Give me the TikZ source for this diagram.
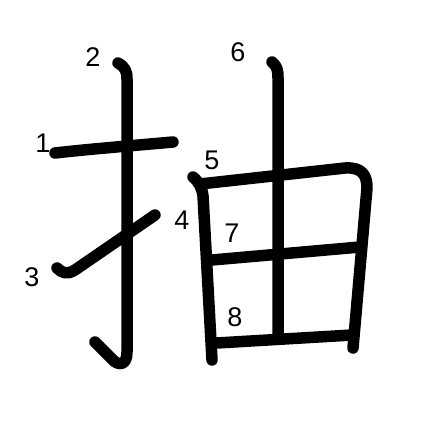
\documentclass[tikz,border=0pt]{standalone}
\usepackage{fontspec}
\setmainfont{Liberation Sans}
\tikzset{
  stroke/.style={line width=11.5pt, line cap=round, line join=round},
  num/.style={inner sep=0pt, font=\fontsize{27}{27}\selectfont}
}
\begin{document}
\begin{tikzpicture}[x=1pt, y=-1pt]
  \useasboundingbox (0,0) rectangle (447,447);

  % strokes
  \draw[stroke] (55,153) .. controls (90,149) and (140,145) .. (173,142);
  \draw[stroke] (118,63) .. controls (125,67) and (127,71) .. (127,79) -- (127,352)
                .. controls (127,366) and (118,366) .. (112,359) -- (95,342);
  \draw[stroke] (57,268) .. controls (62,273) and (67,275) .. (75,270) -- (155,215);
  \draw[stroke] (193,177) .. controls (199,182) and (202,188) .. (203,196) -- (212,360);
  \draw[stroke] (200,184) -- (345,168) .. controls (362,167) and (367,175) .. (367,188) -- (353,348);
  \draw[stroke] (272,62) .. controls (277,66) and (278,70) .. (278,78) -- (278,333);
  \draw[stroke] (212,260) -- (360,247);
  \draw[stroke] (217,343) -- (352,335);

  % stroke numbers
  \node[num] (n1) at (43,143) {1};
  \node[num] (n2) at (93,57) {2};
  \node[num] (n3) at (32,277) {3};
  \node[num] (n4) at (182,220) {4};
  \node[num] (n5) at (212,160) {5};
  \node[num] (n6) at (238,52) {6};
  \node[num] (n7) at (232,233) {7};
  \node[num] (n8) at (235,317) {8};
\end{tikzpicture}
\end{document}
